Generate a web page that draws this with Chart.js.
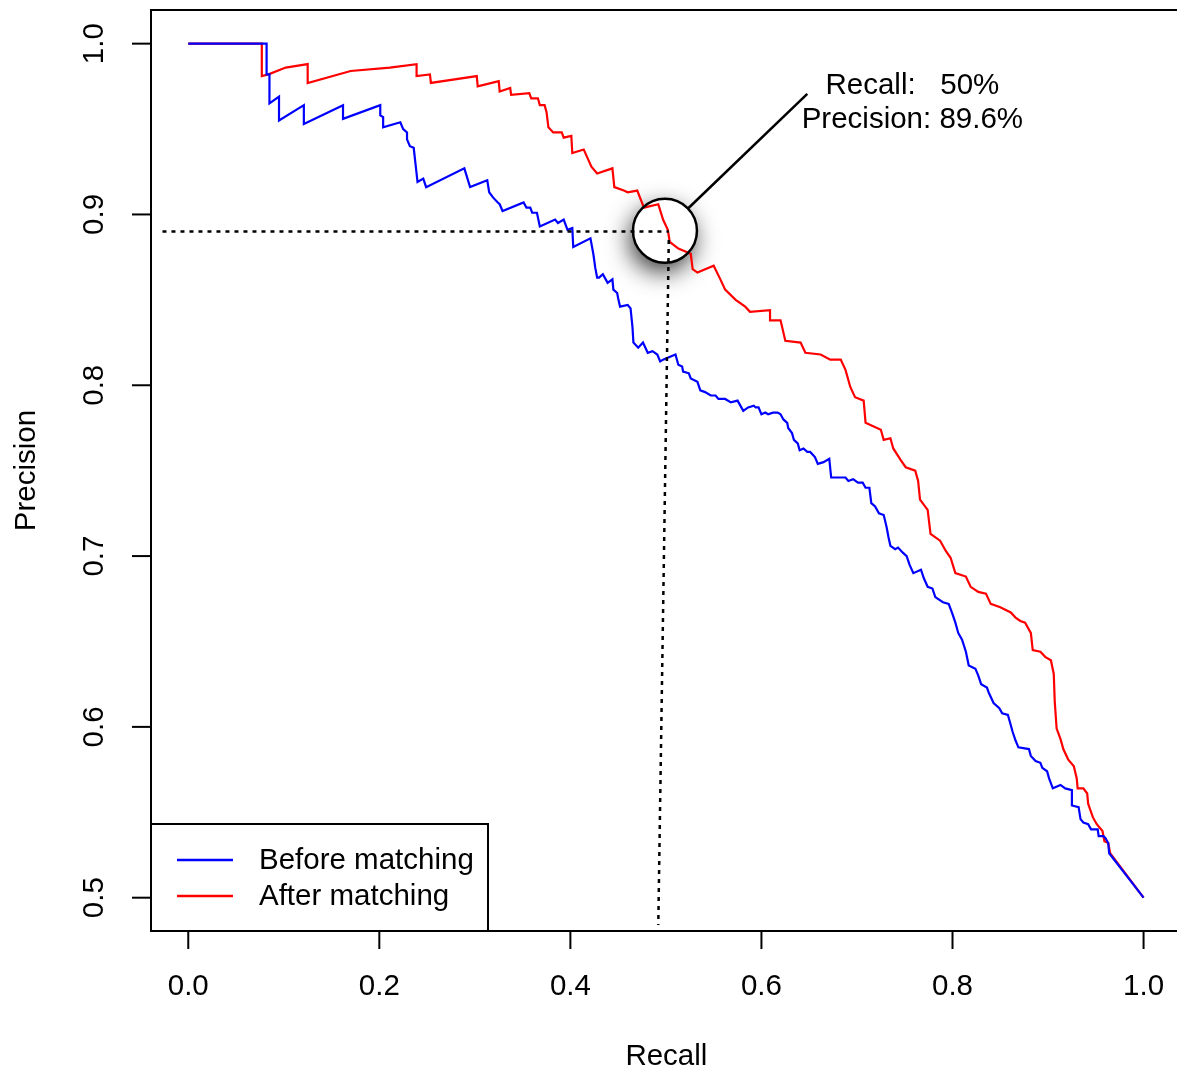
<!DOCTYPE html>
<html>
<head>
<meta charset="utf-8">
<script src="https://cdn.jsdelivr.net/npm/chart.js@4.4.0/dist/chart.umd.min.js"></script>
<style>
  html, body { margin: 0; padding: 0; background: #fff; }
  #wrap { width: 1177px; height: 1074px; position: relative; }
</style>
</head>
<body>
<div id="wrap"><canvas id="pr-chart"></canvas></div>
<script>
// precision / recall
const recallBefore = [0, 0.082, 0.082, 0.085, 0.085, 0.095, 0.095, 0.121, 0.121, 0.162,
  0.162, 0.201, 0.201, 0.204, 0.204, 0.222, 0.225, 0.229, 0.229, 0.232,
  0.236, 0.238, 0.240, 0.246, 0.249, 0.289, 0.295, 0.313, 0.315, 0.319,
  0.324, 0.326, 0.329, 0.351, 0.354, 0.358, 0.360, 0.365, 0.368, 0.384,
  0.387, 0.393, 0.397, 0.402, 0.403, 0.421, 0.424, 0.426, 0.428, 0.430,
  0.434, 0.437, 0.439, 0.444, 0.445, 0.449, 0.450, 0.452, 0.460, 0.463,
  0.465, 0.466, 0.471, 0.476, 0.481, 0.486, 0.491, 0.494, 0.497, 0.510,
  0.513, 0.517, 0.518, 0.524, 0.526, 0.533, 0.536, 0.541, 0.547, 0.552,
  0.555, 0.562, 0.568, 0.575, 0.581, 0.586, 0.592, 0.594, 0.597, 0.600,
  0.604, 0.607, 0.612, 0.617, 0.620, 0.623, 0.627, 0.628, 0.632, 0.634,
  0.638, 0.640, 0.644, 0.648, 0.651, 0.656, 0.659, 0.665, 0.671, 0.673,
  0.677, 0.683, 0.688, 0.691, 0.696, 0.701, 0.706, 0.709, 0.713, 0.715,
  0.719, 0.723, 0.728, 0.731, 0.733, 0.735, 0.740, 0.743, 0.748, 0.752,
  0.755, 0.759, 0.767, 0.770, 0.774, 0.779, 0.782, 0.790, 0.796, 0.800,
  0.803, 0.806, 0.810, 0.814, 0.817, 0.824, 0.827, 0.830, 0.836, 0.838,
  0.843, 0.849, 0.852, 0.858, 0.860, 0.863, 0.866, 0.869, 0.880, 0.882,
  0.887, 0.892, 0.894, 0.899, 0.901, 0.905, 0.913, 0.918, 0.925, 0.925,
  0.932, 0.934, 0.937, 0.942, 0.945, 0.952, 0.953, 0.958, 0.960, 0.963,
  0.964, 1.0];
const precisionBefore = [1, 1, 0.982, 0.982, 0.965, 0.969, 0.955, 0.964, 0.953, 0.964,
  0.956, 0.964, 0.958, 0.957, 0.951, 0.954, 0.950, 0.948, 0.944, 0.940,
  0.939, 0.929, 0.919, 0.921, 0.916, 0.927, 0.916, 0.920, 0.913, 0.910,
  0.907, 0.906, 0.902, 0.907, 0.904, 0.904, 0.901, 0.901, 0.893, 0.897,
  0.895, 0.897, 0.891, 0.892, 0.881, 0.886, 0.877, 0.869, 0.863, 0.863,
  0.865, 0.862, 0.860, 0.862, 0.856, 0.854, 0.851, 0.846, 0.847, 0.845,
  0.834, 0.825, 0.822, 0.825, 0.819, 0.820, 0.818, 0.814, 0.815, 0.818,
  0.812, 0.811, 0.808, 0.807, 0.804, 0.802, 0.797, 0.796, 0.794, 0.794,
  0.792, 0.792, 0.790, 0.791, 0.785, 0.787, 0.788, 0.787, 0.787, 0.783,
  0.784, 0.783, 0.784, 0.784, 0.783, 0.780, 0.778, 0.775, 0.772, 0.768,
  0.766, 0.762, 0.763, 0.761, 0.761, 0.758, 0.754, 0.755, 0.757, 0.746,
  0.746, 0.746, 0.746, 0.744, 0.745, 0.743, 0.743, 0.740, 0.740, 0.731,
  0.729, 0.725, 0.724, 0.717, 0.711, 0.706, 0.704, 0.705, 0.702, 0.700,
  0.695, 0.690, 0.692, 0.687, 0.682, 0.681, 0.676, 0.673, 0.672, 0.666,
  0.661, 0.655, 0.651, 0.644, 0.636, 0.634, 0.630, 0.625, 0.623, 0.620,
  0.614, 0.611, 0.608, 0.607, 0.603, 0.597, 0.592, 0.588, 0.587, 0.583,
  0.580, 0.579, 0.576, 0.574, 0.570, 0.564, 0.566, 0.564, 0.563, 0.554,
  0.553, 0.546, 0.544, 0.543, 0.540, 0.540, 0.536, 0.536, 0.535, 0.532,
  0.526, 0.5];

const recallAfter = [0, 0.077, 0.077, 0.084, 0.102, 0.125, 0.125, 0.170, 0.211, 0.239,
  0.239, 0.253, 0.254, 0.302, 0.303, 0.325, 0.326, 0.337, 0.338, 0.357,
  0.359, 0.366, 0.368, 0.373, 0.375, 0.377, 0.382, 0.391, 0.393, 0.401,
  0.402, 0.414, 0.418, 0.422, 0.428, 0.444, 0.446, 0.456, 0.460, 0.470,
  0.477, 0.492, 0.497, 0.502, 0.504, 0.513, 0.526, 0.528, 0.533, 0.550,
  0.557, 0.562, 0.573, 0.583, 0.588, 0.609, 0.609, 0.620, 0.625, 0.641,
  0.646, 0.662, 0.672, 0.683, 0.688, 0.693, 0.698, 0.707, 0.709, 0.725,
  0.728, 0.735, 0.738, 0.746, 0.751, 0.761, 0.764, 0.766, 0.774, 0.777,
  0.787, 0.793, 0.798, 0.803, 0.814, 0.819, 0.827, 0.835, 0.840, 0.850,
  0.861, 0.866, 0.871, 0.876, 0.882, 0.884, 0.892, 0.897, 0.903, 0.906,
  0.907, 0.909, 0.913, 0.916, 0.921, 0.927, 0.930, 0.931, 0.937, 0.941,
  0.942, 0.947, 0.951, 0.957, 0.959, 0.963, 0.965, 1.0];
const precisionAfter = [1, 1, 0.981, 0.982, 0.986, 0.988, 0.977, 0.984, 0.986, 0.988,
  0.981, 0.982, 0.977, 0.981, 0.975, 0.978, 0.972, 0.974, 0.970, 0.971,
  0.968, 0.968, 0.964, 0.964, 0.960, 0.951, 0.948, 0.948, 0.945, 0.946,
  0.936, 0.938, 0.933, 0.928, 0.924, 0.927, 0.916, 0.914, 0.913, 0.914,
  0.904, 0.906, 0.897, 0.891, 0.884, 0.880, 0.877, 0.868, 0.866, 0.870,
  0.862, 0.856, 0.850, 0.846, 0.843, 0.844, 0.838, 0.838, 0.826, 0.825,
  0.819, 0.818, 0.815, 0.815, 0.809, 0.799, 0.793, 0.791, 0.778, 0.774,
  0.768, 0.769, 0.763, 0.756, 0.752, 0.750, 0.744, 0.733, 0.727, 0.713,
  0.709, 0.703, 0.699, 0.690, 0.688, 0.682, 0.679, 0.678, 0.672, 0.670,
  0.667, 0.664, 0.662, 0.661, 0.655, 0.645, 0.644, 0.641, 0.639, 0.631,
  0.615, 0.599, 0.593, 0.587, 0.581, 0.577, 0.570, 0.564, 0.564, 0.561,
  0.555, 0.547, 0.543, 0.539, 0.533, 0.532, 0.526, 0.5];

// the marked operating point and its guide lines
const guideRecallH = [-0.027, 0.503];
const guidePrecisionH = [0.89, 0.89];
const guideRecallV = [0.503, 0.492];
const guidePrecisionV = [0.885, 0.484];
const markRecall = 0.499;
const markPrecision = 0.8905;
const noteLines = ['Recall:   50%', 'Precision: 89.6%'];

const xTicks = [0, 0.2, 0.4, 0.6, 0.8, 1.0];
const yTicks = [0.5, 0.6, 0.7, 0.8, 0.9, 1.0];
const xLabel = 'Recall';
const yLabel = 'Precision';
const seriesNames = ['Before matching', 'After matching'];
const seriesColors = ['#0000ff', '#ff0000'];

const FONT = '29.5px "Liberation Sans", Arial, Helvetica, sans-serif';

function toPoints(xs, ys) {
  return xs.map((x, i) => ({ x: x, y: ys[i] }));
}

// R style frame, ticks, labels, legend and the magnifier circle
const rDecor = {
  id: 'rDecor',
  beforeDatasetsDraw(chart) {
    const ctx = chart.ctx;
    const cx = chart.scales.x.getPixelForValue(markRecall);
    const cy = chart.scales.y.getPixelForValue(markPrecision);
    ctx.save();
    ctx.shadowColor = 'rgba(0,0,0,0.8)';
    ctx.shadowBlur = 24;
    ctx.shadowOffsetX = -3;
    ctx.shadowOffsetY = 9;
    ctx.beginPath();
    ctx.arc(cx, cy, 32, 0, Math.PI * 2);
    ctx.fillStyle = '#fff';
    ctx.fill();
    ctx.restore();
  },
  afterDatasetsDraw(chart) {
    const ctx = chart.ctx;
    const xs = chart.scales.x, ys = chart.scales.y;
    const area = chart.chartArea;
    const W = chart.width;

    // circle outline + leader line
    const cx = xs.getPixelForValue(markRecall);
    const cy = ys.getPixelForValue(markPrecision);
    ctx.save();
    ctx.strokeStyle = '#000';
    ctx.lineWidth = 2.5;
    ctx.beginPath();
    ctx.arc(cx, cy, 32, 0, Math.PI * 2);
    ctx.stroke();
    const ex = xs.getPixelForValue(0.648), ey = ys.getPixelForValue(0.9706);
    const ang = Math.atan2(ey - cy, ex - cx);
    ctx.beginPath();
    ctx.moveTo(cx + 32 * Math.cos(ang), cy + 32 * Math.sin(ang));
    ctx.lineTo(ex, ey);
    ctx.stroke();

    ctx.fillStyle = '#000';
    ctx.font = FONT;
    ctx.textAlign = 'center';
    ctx.textBaseline = 'alphabetic';
    const tx = xs.getPixelForValue(0.758);
    ctx.fillText(noteLines[0], tx, ys.getPixelForValue(0.9705));
    ctx.fillText(noteLines[1], tx, ys.getPixelForValue(0.9506));

    // frame (right side falls outside the picture)
    ctx.lineWidth = 2;
    ctx.beginPath();
    ctx.moveTo(W, area.top);
    ctx.lineTo(area.left, area.top);
    ctx.lineTo(area.left, area.bottom);
    ctx.lineTo(W, area.bottom);
    ctx.stroke();

    // x ticks
    ctx.textBaseline = 'middle';
    xTicks.forEach(v => {
      const px = xs.getPixelForValue(v);
      ctx.beginPath();
      ctx.moveTo(px, area.bottom);
      ctx.lineTo(px, area.bottom + 18);
      ctx.stroke();
      ctx.fillText(v.toFixed(1), px, area.bottom + 56);
    });
    // y ticks
    yTicks.forEach(v => {
      const py = ys.getPixelForValue(v);
      ctx.beginPath();
      ctx.moveTo(area.left, py);
      ctx.lineTo(area.left - 19, py);
      ctx.stroke();
      ctx.save();
      ctx.translate(area.left - 56, py);
      ctx.rotate(-Math.PI / 2);
      ctx.fillText(v.toFixed(1), 0, 0);
      ctx.restore();
    });
    // axis titles
    ctx.fillText(xLabel, (area.left + xs.getPixelForValue(1.04)) / 2, area.bottom + 126);
    ctx.save();
    ctx.translate(area.left - 124, (area.top + area.bottom) / 2);
    ctx.rotate(-Math.PI / 2);
    ctx.fillText(yLabel, 0, 0);
    ctx.restore();

    // legend box bottom-left
    const lx = area.left, ly = 824, lw = 337, lh = area.bottom - 824;
    ctx.fillStyle = '#fff';
    ctx.fillRect(lx, ly, lw, lh);
    ctx.strokeStyle = '#000';
    ctx.strokeRect(lx, ly, lw, lh);
    ctx.textAlign = 'left';
    seriesNames.forEach((name, i) => {
      const yy = 860 + i * 36;
      ctx.strokeStyle = seriesColors[i];
      ctx.lineWidth = 2.7;
      ctx.beginPath();
      ctx.moveTo(lx + 26, yy);
      ctx.lineTo(lx + 82, yy);
      ctx.stroke();
      ctx.fillStyle = '#000';
      ctx.fillText(name, lx + 108, yy + 1);
    });
    ctx.restore();
  }
};

const ctx = document.getElementById('pr-chart').getContext('2d');
const chart = new Chart(ctx, {
  type: 'line',
  data: {
    datasets: [
      {
        label: 'guide-h',
        data: toPoints(guideRecallH, guidePrecisionH),
        borderColor: '#000',
        borderWidth: 2.5,
        borderDash: [4, 5],
        pointRadius: 0,
        order: 0
      },
      {
        label: 'guide-v',
        data: toPoints(guideRecallV, guidePrecisionV),
        borderColor: '#000',
        borderWidth: 2.5,
        borderDash: [4, 5],
        pointRadius: 0,
        order: 0
      },
      {
        label: seriesNames[0],
        data: toPoints(recallBefore, precisionBefore),
        borderColor: seriesColors[0],
        borderWidth: 2.2,
        pointRadius: 0,
        tension: 0,
        order: 1
      },
      {
        label: seriesNames[1],
        data: toPoints(recallAfter, precisionAfter),
        borderColor: seriesColors[1],
        borderWidth: 2.2,
        pointRadius: 0,
        tension: 0,
        order: 2
      }
    ]
  },
  options: {
    responsive: true,
    maintainAspectRatio: false,
    animation: false,
    layout: { padding: { left: 151, top: 10, right: 0, bottom: 143 } },
    plugins: { legend: { display: false }, tooltip: { enabled: false } },
    scales: {
      x: { type: 'linear', min: -0.039, max: 1.035, display: false },
      y: { type: 'linear', min: 0.4805, max: 1.0197, display: false }
    }
  },
  plugins: [rDecor]
}); // closes chart
</script>
</body>
</html>
